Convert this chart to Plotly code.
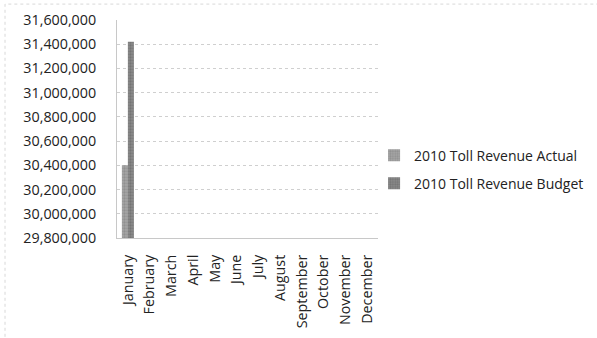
import plotly.graph_objects as go

months = ["January", "February", "March", "April", "May", "June", "July",
          "August", "September", "October", "November", "December"]
actual = [30400000] + [None] * 11
budget = [31420000] + [None] * 11
series_names = ["2010 Toll Revenue Actual", "2010 Toll Revenue Budget"]

axis_font = dict(family="Open Sans, sans-serif", size=14.3, color="#222222")
legend_font = dict(family="Open Sans, sans-serif", size=14, color="#222222")

fig = go.Figure()
fig.add_trace(go.Bar(
    x=months, y=actual, name=series_names[0], legendgroup="a",
    marker=dict(color="#a6a6a6", line=dict(width=0),
                pattern=dict(shape=".", fgcolor="#7a7a7a", size=3, solidity=0.45)),
))
fig.add_trace(go.Bar(
    x=months, y=budget, name=series_names[1], legendgroup="b",
    marker=dict(color="#8a8a8a", line=dict(width=0),
                pattern=dict(shape=".", fgcolor="#5e5e5e", size=3, solidity=0.45)),
))

fig.update_layout(
    width=597, height=338,
    margin=dict(l=117, r=219, t=20, b=100, autoexpand=False),
    paper_bgcolor="white", plot_bgcolor="white",
    font=axis_font,
    barmode="group", bargap=0.45, bargroupgap=0,
    showlegend=True,
    legend=dict(x=0.985, y=0.314, xanchor="left", yanchor="middle",
                font=legend_font, traceorder="grouped", tracegroupgap=7,
                itemwidth=30, bgcolor="rgba(0,0,0,0)"),
    xaxis=dict(tickangle=-90, showgrid=False, showline=True,
               linecolor="#c8c8c8", linewidth=1, ticks="", tickfont=axis_font,
               ticklabelstandoff=10, automargin=False),
    yaxis=dict(range=[29800000, 31600000], dtick=200000, tickformat=",",
               showgrid=True, gridcolor="#cfcfcf", griddash="dot", gridwidth=1,
               showline=True, linecolor="#c8c8c8", linewidth=1,
               ticks="", ticklen=0, tickfont=axis_font, zeroline=False,
               ticklabelstandoff=17, automargin=False),
)

# faint dotted frame around the chart area
fig.add_shape(type="rect", xref="paper", yref="paper",
              x0=-0.429, y0=-0.48, x1=1.9, y1=1.073,
              line=dict(color="#d8d8d8", width=1, dash="dot"))

fig.write_html("out.html")
